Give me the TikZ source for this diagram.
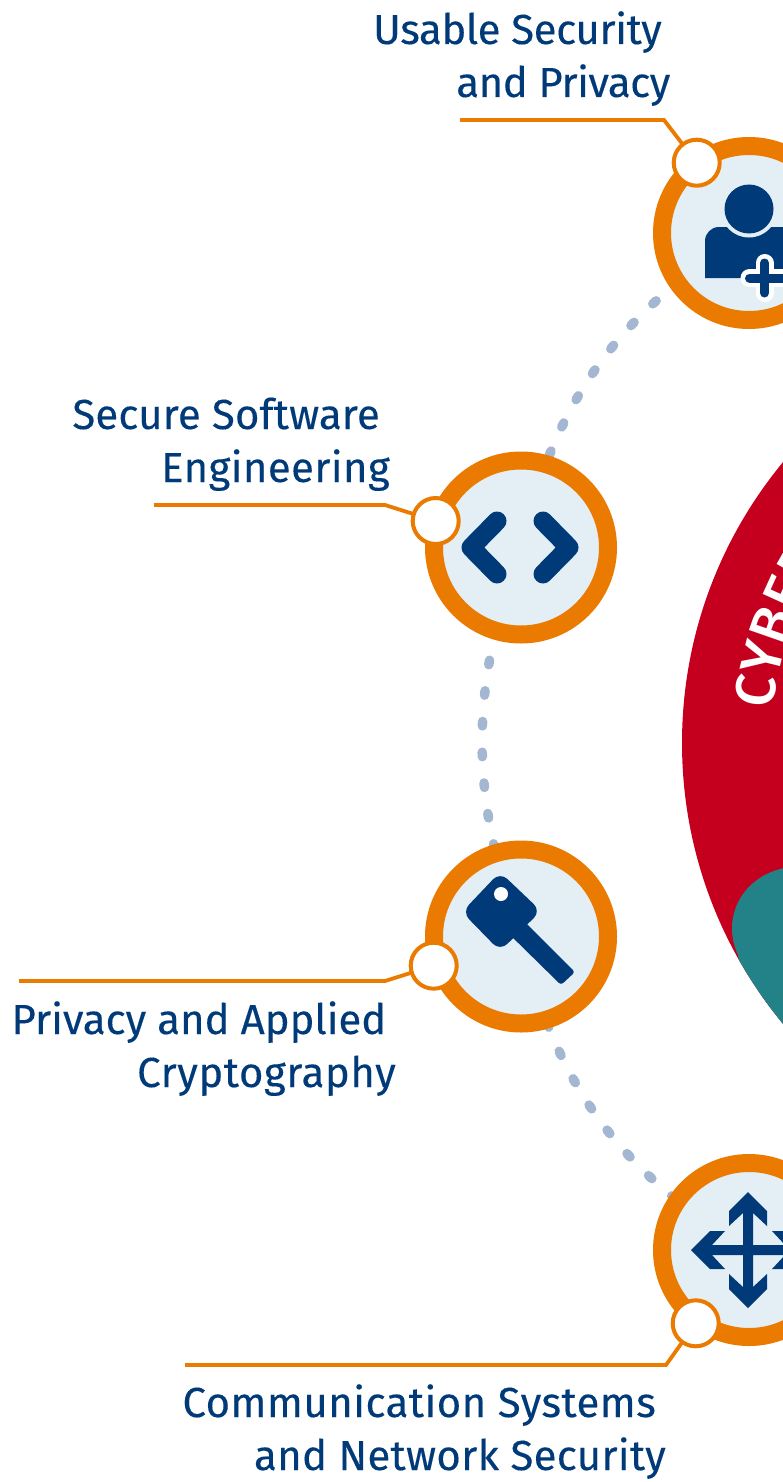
\documentclass[tikz,border=0pt]{standalone}
\usepackage{fontspec}
\setmainfont{Fira Sans}
\newfontfamily\labfont[FakeBold=0.2]{Fira Sans}
\newfontfamily\headfont{Fira Sans Medium}
\usetikzlibrary{decorations.text}
\definecolor{navy}{HTML}{003A78}
\definecolor{ringor}{HTML}{EB7A00}
\definecolor{paleb}{HTML}{E3EEF5}
\definecolor{dotb}{HTML}{A3B7D2}
\definecolor{redc}{HTML}{C4001E}
\definecolor{tealc}{HTML}{238288}
\tikzset{
 ring/.style={circle,draw=ringor,line width=18pt,fill=paleb,minimum size=174pt,inner sep=0pt,outer sep=0pt},
 pin/.style={circle,draw=ringor,line width=4pt,fill=white,minimum size=46pt,inner sep=0pt,outer sep=0pt},
 leader/.style={draw=ringor,line width=3.8pt},
 dots/.style={draw=dotb,line width=9.5pt,line cap=round,dash pattern=on 4.5pt off 26.3pt},
 lab/.style={text=navy,font=\labfont\fontsize{42}{53}\selectfont,align=right,inner sep=0pt,anchor=base east},
 track/.style={font=\labfont\fontsize{42}{53}\selectfont\addfontfeature{LetterSpace=#1}},
 ico/.style={fill=navy,draw=none}
}
\begin{document}
\begin{tikzpicture}[x=1pt,y=-1pt]
\useasboundingbox (0,0) rectangle (783,1482);
\clip (0,0) rectangle (783,1482);
% central lens
\fill[redc] (1123,743) circle[radius=441];
\begin{scope}
\clip (1123,743) circle[radius=441];
\fill[tealc] (800,866.5) .. controls (760,866.5) and (732,895) .. (732,928) .. controls (732,940) and (735,948) .. (738,955) -- (760,1100) -- (800,1100) -- cycle;
\end{scope}
\path[decorate,decoration={text along path,text align={left},
 text={|\headfont\fontsize{56}{56}\selectfont\color{white}|CYBER}}]
 (772.7,710) arc[start angle=174,end angle=130,radius=352pt];
% dotted connectors
\coordinate (a) at (749,233);
\coordinate (b) at (521,547.5);
\coordinate (c) at (521,936.5);
\coordinate (d) at (749,1250);
\draw[dots,dash phase=8pt] (a) to[bend right=23] (b);
\draw[dots,dash phase=6pt] (b) to[bend right=20] (c);
\draw[dots,dash phase=2pt] (c) to[bend right=23] (d);
% rings
\node[ring] (usable) at (a) {};
\node[ring] (software) at (b) {};
\node[ring] (crypto) at (c) {};
\node[ring] (network) at (d) {};
% leaders
\coordinate (l1) at (460,120);\coordinate (l1b) at (664,120);
\coordinate (l2) at (154,505);\coordinate (l2b) at (385,505);
\coordinate (l3) at (19,981);\coordinate (l3b) at (385,981);
\coordinate (l4) at (185,1365);\coordinate (l4b) at (666,1365);
\node[pin] (p1) at (696.7,162.7) {};
\node[pin] (p2) at (435.7,521) {};
\node[pin] (p3) at (433.7,965.7) {};
\node[pin] (p4) at (695.7,1323.3) {};
\draw[leader] (l1) -- (l1b) -- (p1);
\draw[leader] (l2) -- (l2b) -- (p2);
\draw[leader] (l3) -- (l3b) -- (p3);
\draw[leader] (l4) -- (l4b) -- (p4);
% person icon
\fill[ico,rounded corners=14pt] (705,278) -- (705,227) -- (800,227) -- (800,278) [sharp corners] -- cycle;
\fill[ico] (705,250) rectangle (730,278);
\fill[paleb] (749,209) circle[radius=28.5];
\fill[ico] (749,209) circle[radius=24.5];
\draw[white,line width=18pt,line cap=round] (764.5,263) -- (764.5,293) (749.5,278) -- (800,278);
\draw[navy,line width=9pt,line cap=round] (764.5,263) -- (764.5,293) (749.5,278) -- (800,278);
% code icon
\draw[navy,line width=19pt,line cap=round,line join=round] (497,521) -- (471,547.5) -- (497,574);
\draw[navy,line width=19pt,line cap=round,line join=round] (543,521) -- (569,547.5) -- (543,574);
% key icon
\fill[ico,rounded corners=10pt] (500,872) -- (541,911) -- (500,951) -- (462,912) -- cycle;
\fill[ico,rounded corners=3pt] (518,915) -- (575,972) -- (561,985) -- (504,929) -- cycle;
\fill[white] (501,894) circle[radius=7];
% arrows icon
\fill[ico] (748,1192) -- (767,1211) -- (767,1226) -- (753,1213) -- (753,1245) -- (785,1245) -- (772,1231) -- (787,1231) -- (805,1250) -- (787,1269) -- (772,1269) -- (785,1255) -- (753,1255) -- (753,1287) -- (767,1274) -- (767,1289) -- (748,1308) -- (729,1289) -- (729,1274) -- (743,1287) -- (743,1255) -- (712,1255) -- (725,1269) -- (710,1269) -- (691,1250) -- (710,1231) -- (725,1231) -- (712,1245) -- (743,1245) -- (743,1213) -- (729,1226) -- (729,1211) -- cycle;
% labels
\node[lab,track=-1] (t1) at (662,44) {Usable Security};
\node[lab,track=-1.3] (t1b) at (670.5,97) {and Privacy};
\node[lab,track=0.3] (t2) at (380,429) {Secure Software};
\node[lab,track=0.8] (t2b) at (390,482) {Engineering};
\node[lab,track=-0.2] (t3) at (386.5,1034) {Privacy and Applied};
\node[lab,track=1.2] (t3b) at (396,1087) {Cryptography};
\node[lab,track=1] (t4) at (656,1417) {Communication Systems};
\node[lab,track=0.6] (t4b) at (666,1470) {and Network Security};
\end{tikzpicture}
\end{document}
